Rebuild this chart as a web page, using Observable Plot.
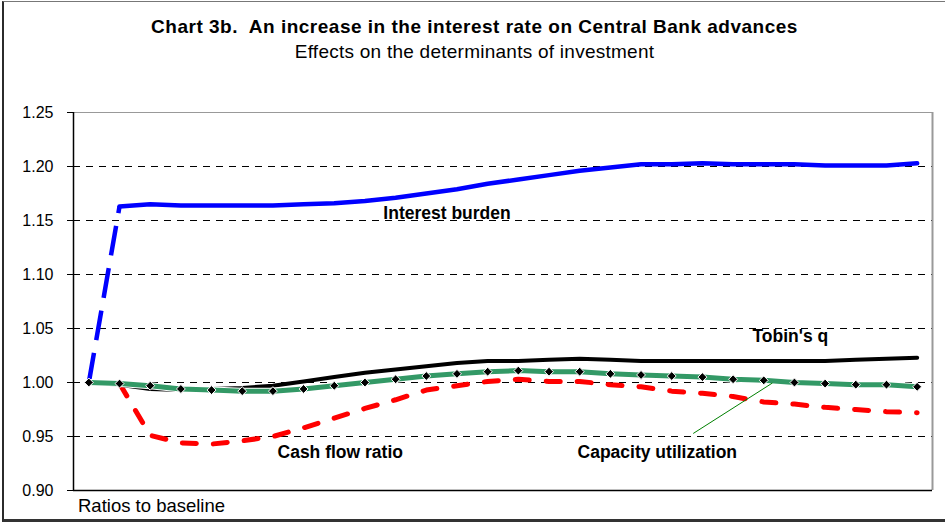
<!DOCTYPE html>
<html><head><meta charset="utf-8">
<script src="https://cdn.jsdelivr.net/npm/d3@7"></script>
<script src="https://cdn.jsdelivr.net/npm/@observablehq/plot@0.6"></script>
<style>
body{margin:0;background:#fff;}
#wrap{position:relative;width:945px;height:524px;font-family:Arial,"Liberation Sans",sans-serif;overflow:hidden;background:#fff;}
#frame{position:absolute;left:2px;top:1px;width:970px;height:517px;border-left:2px solid #2b2b2b;border-top:1px solid #777;border-bottom:3px solid #333;}
#title{position:absolute;left:0;width:949px;top:16px;line-height:22px;text-align:center;font-weight:bold;font-size:19px;letter-spacing:0.5px;color:#000;white-space:nowrap;}
#subtitle{position:absolute;left:0;width:949px;top:41px;line-height:22px;text-align:center;font-size:19px;letter-spacing:0.25px;color:#000;white-space:nowrap;}
#note{position:absolute;left:78px;top:495px;line-height:22px;font-size:18.5px;color:#000;}
#chart{position:absolute;left:0;top:0;}
</style>
</head><body>
<div id="wrap">
<div id="frame"></div>
<div id="chart"></div>
<div id="title">Chart 3b.&nbsp; An increase in the interest rate on Central Bank advances</div>
<div id="subtitle">Effects on the determinants of investment</div>
<div id="note">Ratios to baseline</div>
</div>
<script>
const periods = [0,1,2,3,4,5,6,7,8,9,10,11,12,13,14,15,16,17,18,19,20,21,22,23,24,25,26,27];
const interestBurden = [1.000,1.163,1.165,1.164,1.164,1.164,1.164,1.165,1.166,1.168,1.171,1.175,1.179,1.184,1.188,1.192,1.196,1.199,1.202,1.202,1.203,1.202,1.202,1.202,1.201,1.201,1.201,1.203];
const tobinsQ = [1.000,0.998,0.994,0.993,0.994,0.995,0.997,1.001,1.005,1.009,1.012,1.015,1.018,1.020,1.020,1.021,1.022,1.021,1.020,1.020,1.020,1.020,1.020,1.020,1.020,1.021,1.022,1.023];
const capacityUtil = [1.000,0.999,0.997,0.994,0.993,0.992,0.992,0.994,0.997,1.000,1.003,1.006,1.008,1.010,1.011,1.010,1.010,1.008,1.007,1.006,1.005,1.003,1.002,1.000,0.999,0.998,0.998,0.996];
const cashFlow = [1.000,0.999,0.951,0.944,0.943,0.946,0.950,0.958,0.967,0.976,0.984,0.993,0.997,1.001,1.003,1.001,1.001,0.998,0.996,0.992,0.990,0.987,0.982,0.980,0.977,0.975,0.973,0.972];
const yTicks = [0.90,0.95,1.00,1.05,1.10,1.15,1.20,1.25];
const seriesLabels = ["Interest burden","Tobin's q","Cash flow ratio","Capacity utilization"];

const rows = vals => periods.map((p,i)=>({x:p,y:vals[i]}));
const fmt = d3.format(".2f");
const font = "Arial, 'Liberation Sans', sans-serif";

const chart = Plot.plot({
  width:945, height:524,
  marginTop:112, marginBottom:34, marginLeft:73, marginRight:13,
  x:{domain:[-0.5,27.5], axis:null},
  y:{domain:[0.90,1.25], axis:null},
  style:{fontFamily:font, background:"transparent", color:"#000"},
  marks:[
    Plot.ruleY(yTicks.filter(v=>v>0.901 && v<1.249), {stroke:"#000", strokeWidth:1, strokeDasharray:"7,6"}),
    Plot.ruleY([yTicks[yTicks.length-1]], {stroke:"#999", strokeWidth:1}),
    Plot.ruleX([27.5], {stroke:"#999", strokeWidth:2}),
    Plot.axisY({ticks:yTicks, tickFormat:fmt, tickSize:6, tickPadding:14, label:null, fontSize:16, stroke:"#000"}),
    Plot.ruleX([-0.5], {stroke:"#000", strokeWidth:1.5}),
    Plot.ruleY([yTicks[0]], {stroke:"#000", strokeWidth:1.5}),
    Plot.line(rows(interestBurden).slice(0,2), {x:"x", y:"y", stroke:"#0000ff", strokeWidth:4.5, strokeDasharray:"30,13", strokeLinecap:"butt"}),
    Plot.line(rows(interestBurden).slice(1), {x:"x", y:"y", stroke:"#0000ff", strokeWidth:4.5}),
    Plot.line(rows(cashFlow), {x:"x", y:"y", stroke:"#ff0000", strokeWidth:5, strokeDasharray:"14,17"}),
    Plot.line(rows(tobinsQ), {x:"x", y:"y", stroke:"#000", strokeWidth:4}),
    Plot.line(rows(capacityUtil), {x:"x", y:"y", stroke:"#fff", strokeWidth:7}),
    Plot.line(rows(capacityUtil), {x:"x", y:"y", stroke:"#339966", strokeWidth:5}),
    Plot.dot(rows(capacityUtil), {x:"x", y:"y", symbol:"diamond2", r:4, fill:"#000", stroke:"#fff", strokeWidth:1}),
    Plot.link([{x1:19.7, y1:0.9528, x2:22.28, y2:0.9995}], {x1:"x1", y1:"y1", x2:"x2", y2:"y2", stroke:"#008000", strokeWidth:1}),
    Plot.text([seriesLabels[0]], {x:9.6, y:1.1565, text:d=>d, textAnchor:"start", fontWeight:"bold", fontSize:17.5}),
    Plot.text([seriesLabels[1]], {x:21.63, y:1.0426, text:d=>d, textAnchor:"start", fontWeight:"bold", fontSize:17.5}),
    Plot.text([seriesLabels[2]], {x:6.15, y:0.9352, text:d=>d, textAnchor:"start", fontWeight:"bold", fontSize:17.5}),
    Plot.text([seriesLabels[3]], {x:15.93, y:0.9352, text:d=>d, textAnchor:"start", fontWeight:"bold", fontSize:17.5})
  ]
});
document.getElementById("chart").appendChild(chart);
</script>
</body></html>
